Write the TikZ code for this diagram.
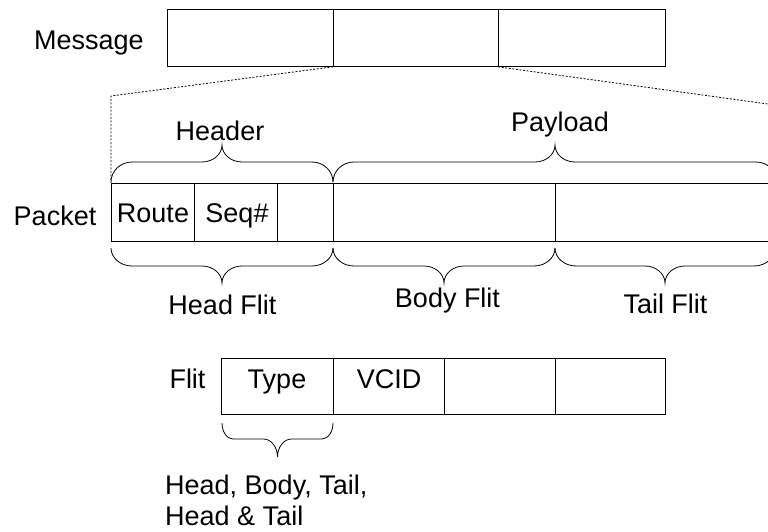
\documentclass[tikz,border=0pt]{standalone}
\usepackage{fontspec}
\setmainfont{Liberation Sans}
% \curlybr{x1}{x2}{y0}{dir}{h1}{h2}{rx}{rm}
\newcommand\curlybr[8]{%
  \pgfmathsetmacro\bxm{(#1+#2)/2}%
  \pgfmathsetmacro\bym{#3-(#4)*#5}%
  \pgfmathsetmacro\byt{#3-(#4)*(#5+#6)}%
  \pgfmathsetmacro\bca{#3-(#4)*0.55*#5}%
  \pgfmathsetmacro\bcb{\bym-(#4)*0.45*#6}%
  \draw[bline] (#1,#3) .. controls (#1,\bca) and ({#1+0.45*#7},\bym) .. ({#1+#7},\bym)
    -- ({\bxm-#8},\bym) .. controls ({\bxm-0.45*#8},\bym) and (\bxm,\bcb) .. (\bxm,\byt)
    .. controls (\bxm,\bcb) and ({\bxm+0.45*#8},\bym) .. ({\bxm+#8},\bym)
    -- ({#2-#7},\bym) .. controls ({#2-0.45*#7},\bym) and (#2,\bca) .. (#2,#3);}
\begin{document}
\begin{tikzpicture}[x=1pt,y=-1pt,
  every node/.style={font=\fontsize{27}{31}\selectfont, inner sep=0pt},
  lbl/.style={anchor=base},
  cell/.style={draw, line width=0.8pt, minimum height=#1, anchor=north west, inner sep=0pt},
  bline/.style={line width=0.8pt},
  dotline/.style={line width=0.8pt, dash pattern=on 2pt off 1.6pt}]
\useasboundingbox (0,0) rectangle (768,531);
\clip (0,0) rectangle (768,531);
% Message
\node[lbl] (lmsg) at (89,49) {Message};
\node[cell=57pt, minimum width=166pt] (m1) at (167,9) {};
\node[cell=57pt, minimum width=165pt] (m2) at (333,9) {};
\node[cell=57pt, minimum width=167pt] (m3) at (498,9) {};
% Packet
\coordinate (pl) at (111,96);
\coordinate (pr) at (768,104);
\coordinate (ptl) at (111,183);
\draw[dotline] (m2.south west) -- (pl) -- (ptl);
\draw[dotline] (m3.south west) -- (pr);
\node[lbl] (lpkt) at (55,225) {Packet};
\node[cell=58pt, minimum width=83pt] (p1) at (111,183) {};
\node[cell=58pt, minimum width=83pt] (p2) at (194,183) {};
\node[cell=58pt, minimum width=56pt] (p3) at (277,183) {};
\node[cell=58pt, minimum width=222pt] (p4) at (333,183) {};
\node[cell=58pt, minimum width=220pt] (p5) at (555,183) {};
\node[lbl] at (153,222) (troute) {Route};
\node[lbl] at (237,222) (tseq) {Seq\#};
% braces above
\curlybr{111}{333}{182}{1}{20}{17}{21}{20}
\curlybr{333}{777}{182}{1}{20}{17}{21}{20}
\node[lbl] (thdr) at (220,140) {Header};
\node[lbl] (tpay) at (560,131) {Payload};
% braces below
\curlybr{111}{333}{248}{-1}{18}{17}{21}{20}
\curlybr{333}{555}{248}{-1}{18}{17}{21}{20}
\curlybr{555}{775}{248}{-1}{18}{17}{21}{20}
\node[lbl] (thf) at (222.5,314) {Head Flit};
\node[lbl] (tbf) at (447.5,307) {Body Flit};
\node[lbl] (ttf) at (665.5,313) {Tail Flit};
% Flit
\node[lbl] (lflit) at (187.5,388) {Flit};
\node[cell=56pt, minimum width=112pt] (f1) at (221,358) {};
\node[cell=56pt, minimum width=111pt] (f2) at (333,358) {};
\node[cell=56pt, minimum width=111pt] (f3) at (444,358) {};
\node[cell=56pt, minimum width=110pt] (f4) at (555,358) {};
\node[lbl] at (277,388) (ttype) {Type};
\node[lbl] at (389,388) (tvcid) {VCID};
\curlybr{222}{333}{423}{-1}{16}{18}{11}{14}
\node[anchor=base west] (tl1) at (165,494) {Head, Body, Tail,};
\node[anchor=base west] (tl2) at (165,525) {Head \& Tail};
\end{tikzpicture}
\end{document}
